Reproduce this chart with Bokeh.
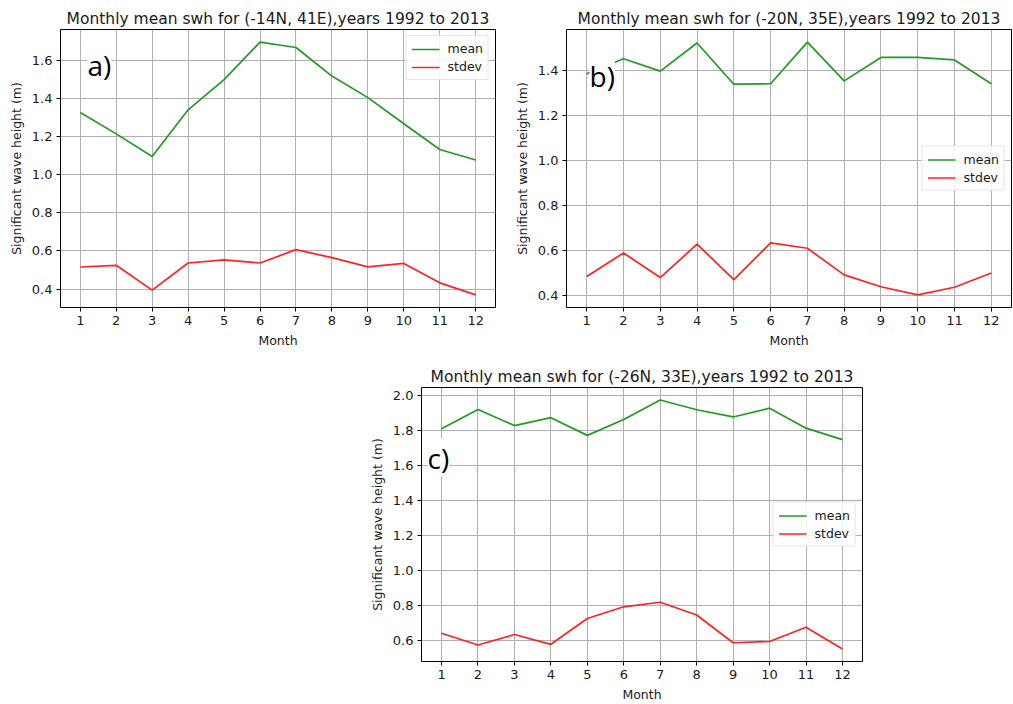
from bokeh.plotting import figure
from bokeh.layouts import column, row
from bokeh.models import (Spacer, Legend, LegendItem, Label, FixedTicker,
                          Range1d, PrintfTickFormatter)
from bokeh.embed import file_html
from bokeh.resources import INLINE

months = list(range(1, 13))
month_ticks = list(range(1, 13))

title_a = "Monthly mean swh for (-14N, 41E),years 1992 to 2013"
mean_a = [1.326, 1.214, 1.095, 1.340, 1.498, 1.695, 1.667, 1.517, 1.404, 1.267, 1.132, 1.077]
stdev_a = [0.516, 0.525, 0.395, 0.537, 0.553, 0.537, 0.607, 0.565, 0.517, 0.535, 0.433, 0.370]
yticks_a = [0.4, 0.6, 0.8, 1.0, 1.2, 1.4, 1.6]

title_b = "Monthly mean swh for (-20N, 35E),years 1992 to 2013"
mean_b = [1.385, 1.452, 1.397, 1.522, 1.339, 1.341, 1.526, 1.354, 1.458, 1.458, 1.447, 1.341]
stdev_b = [0.485, 0.589, 0.480, 0.628, 0.471, 0.634, 0.610, 0.492, 0.439, 0.403, 0.437, 0.500]
yticks_b = [0.4, 0.6, 0.8, 1.0, 1.2, 1.4]

title_c = "Monthly mean swh for (-26N, 33E),years 1992 to 2013"
mean_c = [1.808, 1.918, 1.826, 1.871, 1.770, 1.860, 1.972, 1.916, 1.875, 1.925, 1.811, 1.746]
stdev_c = [0.641, 0.574, 0.634, 0.578, 0.725, 0.792, 0.818, 0.745, 0.587, 0.594, 0.675, 0.551]
yticks_c = [0.6, 0.8, 1.0, 1.2, 1.4, 1.6, 1.8, 2.0]

series_labels = ["mean", "stdev"]
panel_tags = ["a)", "b)", "c)"]

GREEN = "#23992a"
RED = "#ff2222"
TEXT = "#1a1a1a"


def make(title, mean, stdev, yticks, tag, fw, fh, mbl, mbr, mbt, mbb,
         legend_loc, tag_x, tag_top):
    lo = min(min(mean), min(stdev))
    hi = max(max(mean), max(stdev))
    pad = 0.05 * (hi - lo)
    xpad = 0.05 * (months[-1] - months[0])
    p = figure(frame_width=fw, frame_height=fh,
               min_border_left=mbl, min_border_right=mbr,
               min_border_top=mbt, min_border_bottom=mbb,
               x_range=Range1d(months[0] - xpad, months[-1] + xpad),
               y_range=Range1d(lo - pad, hi + pad),
               output_backend="svg", toolbar_location=None, title=title)
    p.background_fill_color = "white"
    p.border_fill_color = "white"
    p.outline_line_color = "black"
    p.outline_line_width = 1
    p.title.text_font = "DejaVu Sans"
    p.title.text_font_size = "15.5px"
    p.title.text_font_style = "normal"
    p.title.text_color = TEXT
    p.title.align = "center"
    p.title.standoff = 4

    p.xaxis.ticker = FixedTicker(ticks=month_ticks)
    p.yaxis.ticker = FixedTicker(ticks=yticks)
    p.yaxis.formatter = PrintfTickFormatter(format="%.1f")
    p.xaxis.minor_tick_line_color = None
    p.yaxis.minor_tick_line_color = None
    for ax in (p.xaxis, p.yaxis):
        ax.axis_line_color = None
        ax.major_tick_in = 0
        ax.major_tick_out = 4
        ax.major_tick_line_color = "black"
        ax.major_label_text_font = "DejaVu Sans"
        ax.major_label_text_font_size = "13px"
        ax.major_label_text_color = TEXT
        ax.axis_label_text_font = "DejaVu Sans"
        ax.axis_label_text_font_size = "12.5px"
        ax.axis_label_text_font_style = "normal"
        ax.axis_label_text_color = TEXT
        ax.major_label_standoff = 4
        ax.axis_label_standoff = 5
    p.xaxis.axis_label = "Month"
    p.yaxis.axis_label = "Significant wave height (m)"
    p.grid.grid_line_color = "#b0b0b0"
    p.grid.grid_line_width = 1

    r1 = p.line(months, mean, line_color=GREEN, line_width=1.7)
    r2 = p.line(months, stdev, line_color=RED, line_width=1.7)

    legend = Legend(items=[LegendItem(label=series_labels[0], renderers=[r1]),
                           LegendItem(label=series_labels[1], renderers=[r2])],
                    location=legend_loc)
    legend.border_line_color = "#cccccc"
    legend.border_line_width = 1
    legend.background_fill_alpha = 0.85
    legend.label_text_font = "DejaVu Sans"
    legend.label_text_font_size = "12.5px"
    legend.label_text_color = TEXT
    legend.glyph_width = 28
    legend.glyph_height = 14
    legend.label_height = 14
    legend.label_standoff = 8
    legend.spacing = 3
    legend.padding = 5
    legend.margin = 6
    p.add_layout(legend)

    lab = Label(x=tag_x, y=fh - tag_top, x_units="screen", y_units="screen",
                text=tag, text_font="Open Sans", text_font_size="28px",
                text_color="black", text_baseline="alphabetic",
                background_fill_color="white", background_fill_alpha=1.0)
    p.add_layout(lab)
    return p


pa = make(title_a, mean_a, stdev_a, yticks_a, panel_tags[0],
          435, 278, 60, 10, 29, 46, "top_right", 27, 35)
pb = make(title_b, mean_b, stdev_b, yticks_b, panel_tags[1],
          445, 278, 61, 1, 29, 46, "right", 23, 46)
pc = make(title_c, mean_c, stdev_c, yticks_c, panel_tags[2],
          441, 274, 60, 10, 34, 43, "right", 6, 70)

layout = column(row(pa, pb, spacing=0),
                row(Spacer(width=361, height=10), pc, spacing=0),
                spacing=0)

open("out.html", "w").write(file_html(layout, INLINE))
